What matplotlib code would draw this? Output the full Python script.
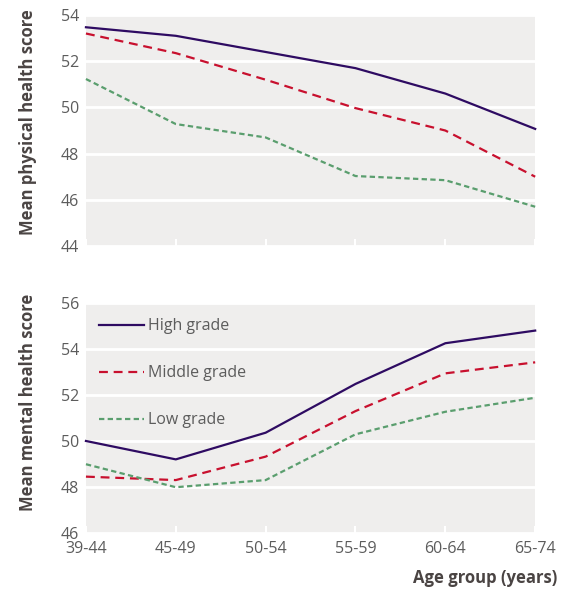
import matplotlib.pyplot as plt

age_groups = ["39-44", "45-49", "50-54", "55-59", "60-64", "65-74"]
grades = ["High grade", "Middle grade", "Low grade"]

physical_high = [53.47, 53.1, 52.4, 51.7, 50.6, 49.07]
physical_middle = [53.2, 52.35, 51.2, 49.97, 49.0, 47.0]
physical_low = [51.23, 49.28, 48.7, 47.03, 46.85, 45.7]

mental_high = [50.0, 49.2, 50.36, 52.48, 54.25, 54.8]
mental_middle = [48.45, 48.3, 49.32, 51.3, 52.94, 53.42]
mental_low = [48.99, 47.99, 48.3, 50.29, 51.27, 51.88]

colors = ["#2e0b62", "#c8102e", "#5a9e6e"]
dashes = [None, (4, 2.6), (2.4, 1.5)]
BG = "#efeeed"
TICK_COL = "#5c5c5c"
LABEL_COL = "#4a4443"

plt.rcParams["font.family"] = ["Open Sans", "DejaVu Sans"]

fig = plt.figure(figsize=(5.73, 5.89), dpi=100)
ax1 = fig.add_axes([0.150, 0.5823, 0.784, 0.3922])
ax2 = fig.add_axes([0.150, 0.0951, 0.784, 0.3905])

x = list(range(len(age_groups)))


def style(ax, ylim, ylabel, label_y):
    ax.set_facecolor(BG)
    for s in ax.spines.values():
        s.set_visible(False)
    ax.set_xlim(0, len(age_groups) - 1)
    ax.set_ylim(*ylim)
    ax.set_yticks(range(ylim[0], ylim[1] + 1, 2))
    ax.set_xticks(x)
    ax.grid(axis="y", color="white", lw=2)
    ax.set_axisbelow(True)
    ax.tick_params(axis="y", length=0, pad=5, labelsize=11.5, labelcolor=TICK_COL)
    ax.tick_params(axis="x", direction="in", length=5, width=1.5, color="white",
                   labelsize=11.5, labelcolor=TICK_COL, pad=6)
    ax.set_ylabel(ylabel, fontsize=12, fontweight="bold", color=LABEL_COL)
    ax.yaxis.set_label_coords(-0.109, label_y)


def draw(ax, series):
    for vals, c, d, lab in zip(series, colors, dashes, grades):
        ln, = ax.plot(x, vals, color=c, lw=1.6, label=lab, clip_on=False)
        if d is not None:
            ln.set_dashes(d)


style(ax1, (44, 54), "Mean physical health score", 0.535)
draw(ax1, [physical_high, physical_middle, physical_low])
ax1.set_xticklabels([])

style(ax2, (46, 56), "Mean mental health score", 0.57)
draw(ax2, [mental_high, mental_middle, mental_low])
ax2.set_xticklabels(age_groups)

ax2.legend(loc="upper left", frameon=False, fontsize=11.5, labelcolor=TICK_COL,
           handlelength=2.8, handletextpad=0.3, labelspacing=1.95,
           borderaxespad=0.55, bbox_to_anchor=(-0.005, 1.0))

fig.text(0.972, 0.003, "Age group (years)", ha="right", va="bottom",
         fontsize=12, fontweight="bold", color=LABEL_COL)

fig.savefig("out.png", dpi=100)
